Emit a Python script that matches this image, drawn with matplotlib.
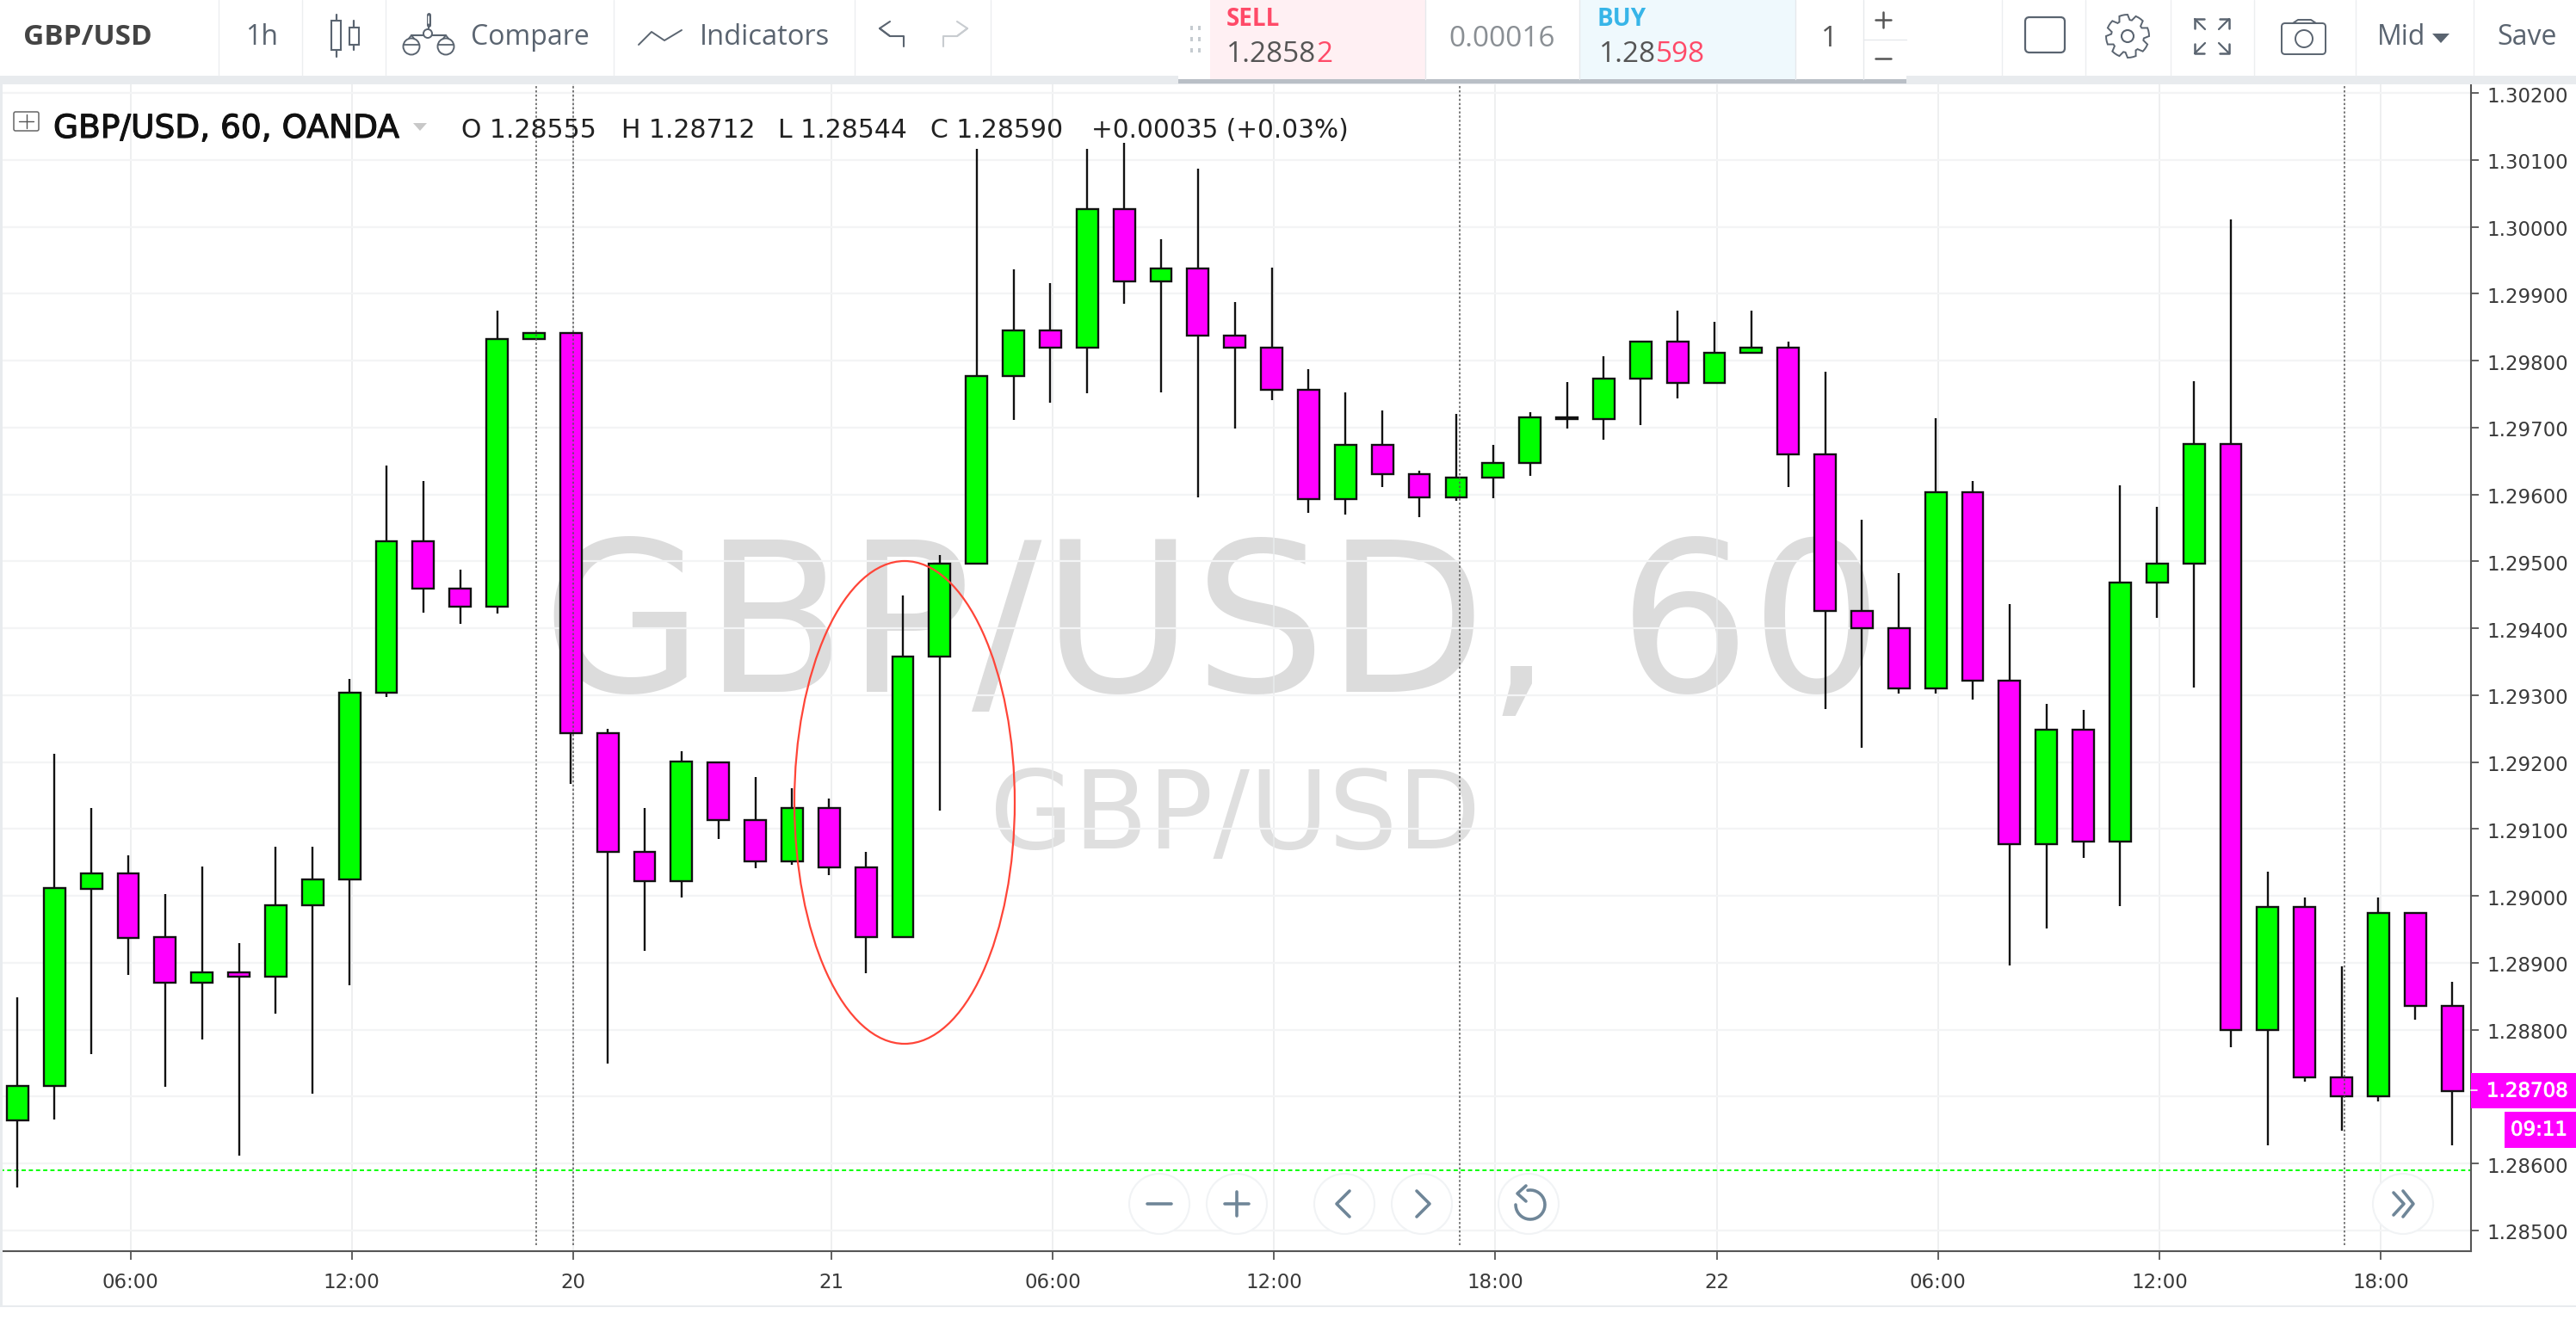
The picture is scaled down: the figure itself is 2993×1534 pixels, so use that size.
import numpy as np
import matplotlib
matplotlib.use("Agg")
import matplotlib.pyplot as plt
import matplotlib.patheffects as pe
from matplotlib.patches import Rectangle, Ellipse, Circle, FancyBboxPatch, Polygon
from matplotlib.transforms import ScaledTranslation

# candles, prices x 1e5
opens = [128664, 128716, 129011, 129034, 128938, 128870, 128886, 128879, 128986, 129025,
         129304, 129530, 129459, 129432, 129832, 129841, 129243, 129066, 129022, 129200,
         129113, 129051, 129132, 129042, 128938, 129358, 129496, 129777, 129845, 129819,
         130026, 129919, 129938, 129838, 129819, 129757, 129593, 129674, 129631, 129596,
         129625, 129647, 129713, 129713, 129773, 129828, 129767, 129812, 129819, 129660,
         129426, 129400, 129310, 129603, 129322, 129077, 129248, 129081, 129468, 129497,
         129675, 128800, 128984, 128729, 128700, 128975, 128835]
closes = [128716, 129012, 129034, 128937, 128870, 128886, 128879, 128986, 129025, 129304,
          129530, 129459, 129432, 129832, 129841, 129243, 129066, 129022, 129201, 129113,
          129051, 129132, 129042, 128938, 129358, 129496, 129777, 129845, 129819, 130026,
          129919, 129938, 129838, 129819, 129757, 129593, 129674, 129631, 129596, 129625,
          129647, 129715, 129715, 129773, 129828, 129767, 129812, 129819, 129660, 129426,
          129400, 129310, 129603, 129322, 129077, 129248, 129081, 129468, 129497, 129675,
          128800, 128984, 128729, 128700, 128975, 128835, 128708]
highs = [128849, 129212, 129132, 129061, 129003, 129044, 128929, 129073, 129073, 129324,
         129643, 129620, 129488, 129875, 129841, 129841, 129250, 129132, 129216, 129200,
         129178, 129161, 129146, 129066, 129449, 129510, 130116, 129936, 129916, 130116,
         130125, 129981, 130087, 129887, 129939, 129787, 129752, 129726, 129636, 129720,
         129674, 129723, 129768, 129807, 129828, 129875, 129858, 129875, 129828, 129784,
         129562, 129482, 129714, 129620, 129436, 129287, 129278, 129614, 129581, 129769,
         130011, 129036, 128997, 128895, 128997, 128975, 128871]
lows = [128564, 128666, 128763, 128882, 128715, 128785, 128612, 128824, 128704, 128866,
        129297, 129423, 129406, 129422, 129832, 129168, 128750, 128918, 128997, 129085,
        129041, 129047, 129031, 128885, 128938, 129127, 129496, 129711, 129737, 129751,
        129885, 129753, 129596, 129699, 129741, 129573, 129570, 129611, 129566, 129591,
        129595, 129628, 129698, 129682, 129704, 129743, 129767, 129812, 129611, 129279,
        129221, 129303, 129303, 129293, 128896, 128951, 129057, 128985, 129416, 129312,
        128774, 128627, 128722, 128649, 128693, 128815, 128627]

price_ticks = [1.285 + 0.001 * i for i in range(18)]
time_tick_pos = [3.06, 9.06, 15.06, 22.06, 28.06, 34.06, 40.06, 46.06, 52.06, 58.06, 64.06]
time_tick_labels = ["06:00", "12:00", "20", "21", "06:00", "12:00", "18:00", "22", "06:00", "12:00", "18:00"]
session_breaks = [14.06, 15.06, 39.1, 63.08]
last_close_line = 1.28590

W, H = 2993, 1534
AXIS = "#555555"
TXT = "#3a3a3a"
ICON = "#5a6470"
BAR = "#6f8698"
GREEN = "#00ff00"
MAGENTA = "#ff00ff"
plt.rcParams['font.family'] = ['DejaVu Sans']

fig = plt.figure(figsize=(W / 100, H / 100), dpi=100, facecolor="white")
ax = fig.add_axes([0, 1 - 1454 / H, 2871 / W, (1454 - 98) / H])
ax.set_xlim(-0.476, 66.51)
ax.set_ylim(1.28469, 1.30213)

# chart
n = np.arange(len(opens))
o = np.array(opens) / 1e5
c = np.array(closes) / 1e5
hi = np.array(highs) / 1e5
lo = np.array(lows) / 1e5
cols = [GREEN if b >= a else MAGENTA for a, b in zip(o, c)]

ax.set_yticks(price_ticks)
ax.set_yticklabels(["%.5f" % p for p in price_ticks])
ax.set_xticks(time_tick_pos)
ax.set_xticklabels(time_tick_labels)
ax.yaxis.tick_right()
ax.tick_params(axis="y", length=6.5, width=1.3, color=AXIS, labelsize=16.5, labelcolor=TXT, pad=7)
ax.tick_params(axis="x", length=7, width=1.3, color=AXIS, labelsize=16.5, labelcolor=TXT, pad=11)
# price labels sit a little under their ticks
for tl in ax.get_yticklabels():
    tl.set_transform(tl.get_transform() + ScaledTranslation(0, -0.015, fig.dpi_scale_trans))
ax.grid(axis="y", color="#f3f4f5", linewidth=1.6, zorder=0)
ax.grid(axis="x", color="#e9ebec", linewidth=1.1, zorder=0)
ax.set_axisbelow(True)
for s in ["top", "left"]:
    ax.spines[s].set_visible(False)
ax.spines["right"].set_color(AXIS)
ax.spines["bottom"].set_color(AXIS)
ax.spines["right"].set_linewidth(1.5)
ax.spines["bottom"].set_linewidth(1.5)

ax.vlines(session_breaks, 1.28478, 1.30213, colors="#555555", linewidth=1.1, linestyles=(0, (1.6, 1.6)), zorder=4)
ax.axhline(last_close_line, color=GREEN, linewidth=1.4, linestyle=(0, (2.5, 1.8)), zorder=1.5)

ax.vlines(n, lo, hi, colors="#111111", linewidth=1.7, zorder=2)
ax.bar(n, c - o, bottom=o, width=0.58, color=cols, edgecolor="#111111", linewidth=1.7, zorder=3)

# overlay in pixel coordinates for watermark and the toolbar
ui = fig.add_axes([0, 0, 1, 1], zorder=5)
ui.set_xlim(0, W)
ui.set_ylim(H, 0)
ui.axis("off")
ui.patch.set_alpha(0)

back = fig.add_axes([0, 0, 1, 1], zorder=-1)
back.set_xlim(0, W)
back.set_ylim(H, 0)
back.axis("off")
ax.patch.set_alpha(0)
back.text(630, 804, "GBP/USD, 60", fontsize=174, color="#dcdcdc", va="baseline", ha="left")
back.text(1150, 986, "GBP/USD", fontsize=90.5, color="#dfdfdf", va="baseline", ha="left")


def line(xs, ys, color=ICON, lw=1.4, **kw):
    ui.plot(xs, ys, color=color, linewidth=lw, solid_capstyle="round", **kw)


def label(x, y, s, size=23, color=TXT, ha="left", family="Open Sans", **kw):
    return ui.text(x, y, s, fontsize=size, color=color, ha=ha, va="center", family=family, **kw)


# circled shape
ui.add_patch(Ellipse((1051, 932.5), 256, 561, fill=False, edgecolor="#ff4538", linewidth=1.6))

# top toolbar
ui.add_patch(Rectangle((0, 0), W, 88, facecolor="white", edgecolor="none"))
ui.add_patch(Rectangle((0, 88), W, 10, facecolor="#e8ebee", edgecolor="none"))
for x in [254, 351, 448, 713, 993, 1151, 2326, 2423, 2522, 2619, 2737, 2874]:
    line([x, x], [0, 88], color="#eceef0", lw=1)
ui.add_patch(Rectangle((0, 98), 3, 1420, facecolor="#e8ebee", edgecolor="none"))
ui.add_patch(Rectangle((0, 1517), W, 2, facecolor="#e8ebee", edgecolor="none"))

label(27, 44, "GBP/USD", 24, "#444444", fontweight="bold")
label(285, 44, "1h", 23, ICON)
# candle icon
line([391, 391], [17, 66], lw=1.6)
ui.add_patch(Rectangle((385, 24), 11, 34, facecolor="white", edgecolor=ICON, linewidth=1.5, zorder=3))
line([411, 411], [24, 58], lw=1.6)
ui.add_patch(Rectangle((406, 32), 11, 20, facecolor="white", edgecolor=ICON, linewidth=1.5, zorder=3))
# compare icon
line([498, 498], [17, 29], lw=3.6)
line([498, 498], [19, 27], color="white", lw=1.2)
line([498, 498], [29, 36], lw=1.4)
line([478, 518], [41, 41], lw=1.5)
for bx in [478, 518]:
    line([bx - 9, bx, bx + 9], [52, 41, 52], lw=1.3)
    ui.add_patch(Circle((bx, 54), 9.5, facecolor="white", edgecolor=ICON, linewidth=1.4, zorder=3))
    line([bx - 9, bx + 9], [52, 52], lw=1.3, zorder=4)
ui.add_patch(Circle((497, 39), 5, facecolor="white", edgecolor=ICON, linewidth=1.4, zorder=3))
label(547, 44, "Compare", 23, ICON)
line([742, 757, 772, 792], [52, 37, 47, 35])
label(813, 44, "Indicators", 23.5, ICON)
line([1050, 1050, 1034, 1022, 1034], [54, 42, 42, 33, 25], lw=1.5)
line([1022, 1034], [33, 42], lw=1.5)
line([1096, 1096, 1112, 1124, 1112], [54, 42, 42, 33, 25], color="#c8ccd0", lw=1.5)
line([1124, 1112], [33, 42], color="#c8ccd0", lw=1.5)

# trade panel
ui.add_patch(Rectangle((1369, 0), 846, 97, facecolor="#b9bfc6", edgecolor="none", zorder=3))
ui.add_patch(Rectangle((1369, 0), 846, 92, facecolor="white", edgecolor="none", zorder=3))
ui.add_patch(Rectangle((1406, 0), 250, 92, facecolor="#fff0f3", edgecolor="none", zorder=3))
ui.add_patch(Rectangle((1835, 0), 251, 92, facecolor="#eff9fd", edgecolor="none", zorder=3))
for x in [1656, 1835, 2086, 2165]:
    line([x, x], [0, 92], color="#e6e9ec", lw=1, zorder=4)
line([2165, 2215], [46, 46], color="#e6e9ec", lw=1, zorder=4)
for gx in [1383, 1392]:
    for gy in [30, 43, 56]:
        ui.add_patch(Rectangle((gx, gy), 3, 5, facecolor="#c5cbd0", edgecolor="none", zorder=4))
label(1425, 23, "SELL", 20, "#ff4a68", zorder=5, fontweight="bold")
label(1425, 63, "1.2858", 24, "#555555", zorder=5)
label(1529, 63, "2", 24, "#ff4a68", zorder=5)
label(1745, 45, "0.00016", 24, "#8a8f94", ha="center", zorder=5)
label(1856, 23, "BUY", 20, "#37b5e8", zorder=5, fontweight="bold")
label(1858, 63, "1.28", 24, "#555555", zorder=5)
label(1924, 63, "598", 24, "#ff4a68", zorder=5)
label(2126, 45, "1", 24, "#555555", ha="center", zorder=5)
line([2188, 2188], [14, 32], color="#555555", lw=1.8, zorder=5)
line([2179, 2197], [23, 23], color="#555555", lw=1.8, zorder=5)
line([2179, 2197], [68, 68], color="#555555", lw=1.8, zorder=5)

# right icons
ui.add_patch(FancyBboxPatch((2356, 23), 40, 35, boxstyle="round,pad=3,rounding_size=5",
                            facecolor="white", edgecolor=ICON, linewidth=1.6))
ang = np.radians(np.arange(0, 360, 360 / 48)) + np.pi / 8
rad = np.array([25, 25, 25, 25, 19, 19, 19, 19, 19, 19, 25, 25][:6] * 8)
ui.add_patch(Polygon(np.column_stack([2472 + rad * np.cos(ang), 42 + rad * np.sin(ang)]),
                     closed=True, facecolor="white", edgecolor=ICON, linewidth=1.4))
ui.add_patch(Circle((2472, 42), 7, facecolor="white", edgecolor=ICON, linewidth=1.5))
for sx, sy in [(-1, -1), (1, -1), (-1, 1), (1, 1)]:
    cx, cy = 2570 + sx * 20, 42 + sy * 20
    line([cx - sx * 11, cx, cx], [cy, cy, cy - sy * 11], lw=1.8)
    line([cx, cx - sx * 12], [cy, cy - sy * 12], lw=1.6)
ui.add_patch(FancyBboxPatch((2654, 30), 45, 30, boxstyle="round,pad=3,rounding_size=4",
                            facecolor="white", edgecolor=ICON, linewidth=1.4))
line([2664, 2670, 2685, 2691], [27, 23, 23, 27], lw=1.4)
ui.add_patch(Circle((2677, 45), 10, facecolor="white", edgecolor=ICON, linewidth=1.4))
label(2762, 44, "Mid", 23, ICON)
ui.fill([2826, 2846, 2836], [39, 39, 50], color=ICON, linewidth=0)
label(2901, 44, "Save", 23, ICON)

# chart legend
ui.add_patch(FancyBboxPatch((17, 131), 27, 20, boxstyle="round,pad=1,rounding_size=2",
                            facecolor="white", edgecolor="#666666", linewidth=1.1))
line([30.5, 30.5], [133, 149], color="#555555", lw=1)
line([22, 39], [141, 141], color="#555555", lw=1)
t1 = label(62, 150, "GBP/USD, 60, OANDA", 27, "#111111", family="DejaVu Sans")
t1.set_path_effects([pe.withStroke(linewidth=0.8, foreground="#111111")])
ui.fill([480, 496, 488], [143, 143, 152], color="#c8c8c8", linewidth=0)
for x, s in [(536, "O 1.28555"), (722, "H 1.28712"), (904, "L 1.28544"), (1081, "C 1.28590")]:
    label(x, 151, s, 21.5, "#222222", family="DejaVu Sans")
label(1268, 151, "+0.00035 (+0.03%)", 21.3, "#222222", family="DejaVu Sans")

# price tags
ui.add_patch(Rectangle((2871, 1247), 122, 41, facecolor=MAGENTA, edgecolor="none"))
ui.add_patch(Rectangle((2910, 1292), 83, 42, facecolor=MAGENTA, edgecolor="none"))
line([2871, 2878], [1267, 1267], color="white", lw=1.2)
t2 = label(2889, 1268, "1.28708", 16.5, "white", family="DejaVu Sans")
t3 = label(2917, 1313, "09:11", 16.5, "white", family="DejaVu Sans")
t2.set_path_effects([pe.withStroke(linewidth=0.6, foreground="white")])
t3.set_path_effects([pe.withStroke(linewidth=0.6, foreground="white")])

# nav buttons
for x in [1347, 1437, 1562, 1652, 1776, 2792]:
    ui.add_patch(Circle((x, 1399), 35, facecolor="white", edgecolor="#f1f3f5", linewidth=1.5))
line([1333, 1361], [1399, 1399], color=BAR, lw=2.6)
line([1423, 1451], [1399, 1399], color=BAR, lw=2.6)
line([1437, 1437], [1385, 1413], color=BAR, lw=2.6)
line([1568, 1553, 1568], [1384, 1399, 1414], color=BAR, lw=2.6)
line([1646, 1661, 1646], [1384, 1399, 1414], color=BAR, lw=2.6)
t = np.radians(np.arange(-100, 190, 10))
line(1778 + 17 * np.cos(t), 1400 + 17 * np.sin(t), color=BAR, lw=2.6)
line([1773, 1763, 1773], [1378, 1387, 1396], color=BAR, lw=2.6)
line([2781, 2793, 2781], [1386, 1399, 1412], color=BAR, lw=2.6)
line([2792, 2804, 2792], [1384, 1399, 1414], color=BAR, lw=2.6)

fig.savefig("out.png", dpi=100)
